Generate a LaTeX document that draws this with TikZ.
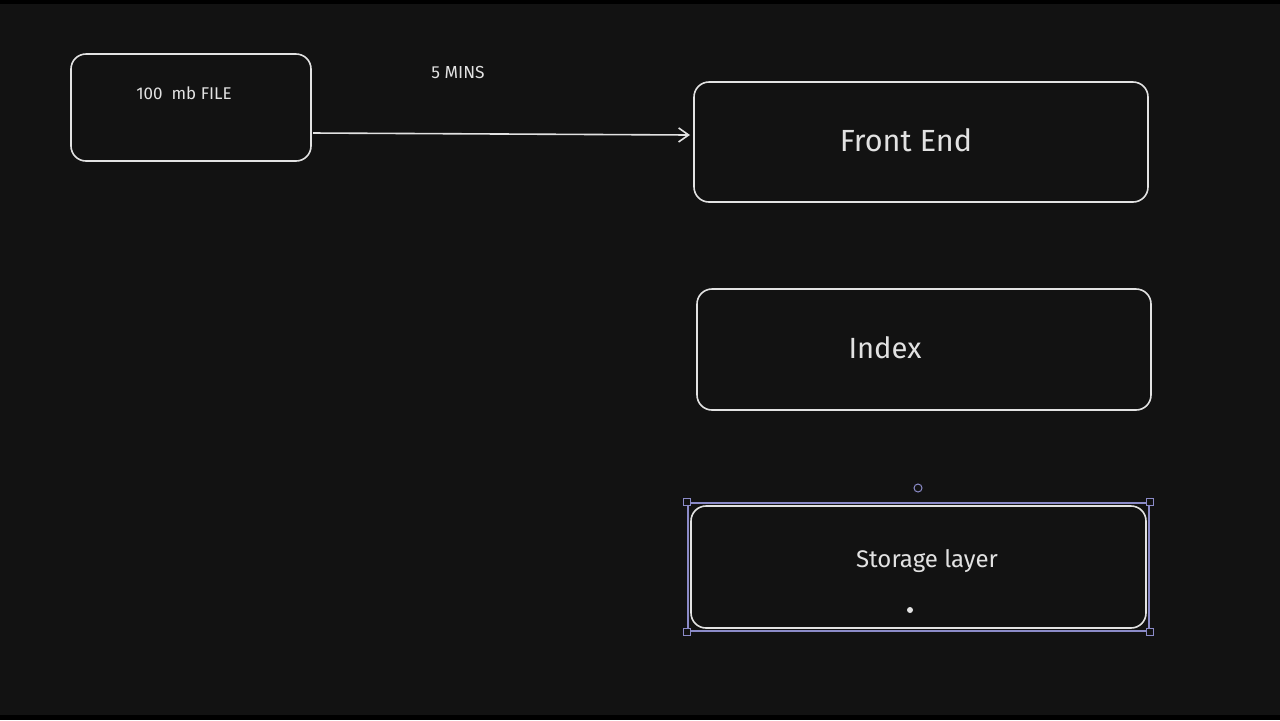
\documentclass[tikz,border=0pt]{standalone}
\usepackage{fontspec}
\setmainfont{Fira Sans}
\usetikzlibrary{arrows.meta}
\definecolor{bg}{HTML}{121212}
\definecolor{ink}{HTML}{E2E2E2}
\definecolor{sel}{HTML}{8B8BC8}
\tikzset{
  box/.style={draw=ink, line width=0.8pt, rounded corners=7.5pt, inner sep=0pt},
  lbl/.style={text=ink, inner sep=0pt, anchor=center},
  handle/.style={draw=sel, fill=bg, line width=0.5pt, minimum size=3.5pt, inner sep=0pt},
  selframe/.style={draw=sel, line width=0.6pt, inner sep=0pt},
  conn/.style={draw=ink, line width=0.8pt, -{Straight Barb[length=5pt,width=7pt]}}
}
\begin{document}
\begin{tikzpicture}[x=0.5pt, y=-0.5pt]
\fill[black] (0,0) rectangle (1280,720);
\fill[bg] (0,4) rectangle (1280,715);
\useasboundingbox (0,0) rectangle (1280,720);
% boxes
\node[box, minimum width=120pt, minimum height=53.5pt] (file) at (191,107.5) {};
\node[box, minimum width=227pt, minimum height=60pt] (front) at (921,142) {};
\node[box, minimum width=227pt, minimum height=60.5pt] (index) at (924,349.5) {};
\node[box, minimum width=227.5pt, minimum height=61pt] (storage) at (918.5,567) {};
% labels
\node[lbl, font=\fontsize{8.5}{10}\selectfont] (filet) at (184,93) {100\ \ mb FILE};
\node[lbl, font=\fontsize{8.7}{10}\selectfont] (mins) at (458,72) {5 MINS};
\node[lbl, font=\fontsize{15.3}{18}\selectfont] (frontt) at (906,140) {Front End};
\node[lbl, font=\fontsize{14.6}{17}\selectfont] (indext) at (885,348) {Index};
\node[lbl, font=\fontsize{12}{14}\selectfont] (storaget) at (927,561) {Storage layer};
% connector
\coordinate (a1) at (313,133);
\coordinate (a2) at (690,135);
\draw[conn] (a1) -- (a2);
% selection
\node[selframe, minimum width=230.5pt, minimum height=64pt] (selbox) at (918.5,567) {};
\node[handle] (h1) at (selbox.north west) {};
\node[handle] (h2) at (selbox.north east) {};
\node[handle] (h3) at (selbox.south west) {};
\node[handle] (h4) at (selbox.south east) {};
\node[draw=sel, line width=0.5pt, circle, minimum size=4pt, inner sep=0pt] (rot) at (918,488) {};
\node[fill=ink, circle, minimum size=3pt, inner sep=0pt] (dot) at (910,610) {};
\end{tikzpicture}
\end{document}
